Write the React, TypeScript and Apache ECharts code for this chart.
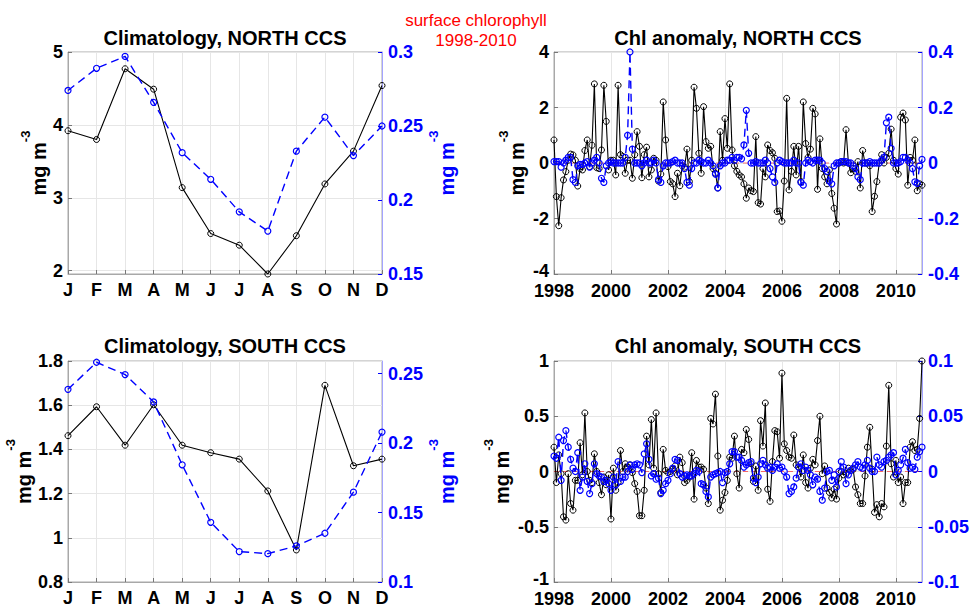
import React, { useEffect, useRef } from 'react';
import * as echarts from 'echarts';

const FONT = '"Liberation Sans", Arial, Helvetica, sans-serif';
const BLUE = '#0000ff';

const MONTHS = ['J', 'F', 'M', 'A', 'M', 'J', 'J', 'A', 'S', 'O', 'N', 'D'];
const YEAR_TICKS = [1998, 2000, 2002, 2004, 2006, 2008, 2010];
const START_YEAR = 1998;

// Climatology, NORTH CCS
const climNorthLeft = [3.92, 3.8, 4.77, 4.49, 3.14, 2.51, 2.35, 1.955, 2.48, 3.19, 3.64, 4.54];
const climNorthRight = [0.274, 0.289, 0.297, 0.266, 0.232, 0.214, 0.192, 0.179, 0.233, 0.256, 0.23, 0.25];
// Climatology, SOUTH CCS
const climSouthLeft = [1.462, 1.593, 1.419, 1.602, 1.419, 1.385, 1.356, 1.212, 0.945, 1.69, 1.326, 1.356];
const climSouthRight = [0.2387, 0.2582, 0.2493, 0.2296, 0.1844, 0.143, 0.1219, 0.1204, 0.126, 0.1351, 0.1647, 0.2079];

// Chl anomaly, NORTH CCS (monthly, Jan 1998 - Dec 2010)
const anomNorthLeft = [
  0.83, -1.21, -2.26, -1.25, -0.61, -0.31, 0.1, 0.32, 0.29, 0.1, -0.83, -0.2,
  -0.25, 0.45, 0.83, -0.13, 0.64, 2.85, -0.17, -0.2, 0.47, 2.8, 1.5, -0.25,
  0.1, 0.1, -0.43, 2.8, 0.3, 0.23, -0.37, 0.1, 0.1, -0.55, 0.3, 1.13,
  0.6, -0.53, 0.3, 0.57, -0.5, -0.25, 0.17, 0.1, -0.65, -0.4, 2.2, 0.83,
  -0.13, -0.67, -0.75, -1.21, -0.37, -0.82, -0.1, -0.15, 0.5, -0.67, 0.1, 2.73,
  1.97, 0.35, -0.37, 2.03, 0.77, 0.53, 0.6, -0.2, -0.37, -0.9, 1.13, 0.1,
  1.6, 0.53, 2.85, 0.47, -0.1, -0.3, -0.43, -0.5, -0.75, -1.27, -0.9, -1.0,
  -1.03, 0.95, -1.43, -1.48, -0.2, -0.5, 0.65, 0.45, 0.37, 0.17, -1.75, -1.73,
  -2.1, -0.65, 2.33, -0.97, -0.3, 0.6, -0.43, 0.6, -0.67, 2.2, 0.7, 0.2,
  0.5, 1.97, 1.77, -0.95, 0.87, -0.2, -0.5, -0.75, -0.25, -1.1, -1.63, -2.2,
  0.0, 0.05, 0.0, 1.2, 0.0, -0.35, -0.2, -0.3, 0.05, -0.9, 0.45, 0.0,
  0.0, -0.1, -1.75, -1.2, -0.67, 0.0, 0.3, 0.0, 0.2, 0.35, 1.22, 0.1,
  -0.2, -0.4, 1.65, 1.8, 1.55, -0.8, 0.2, 0.1, 0.83, -1.0, -0.75, -0.8,
];
const anomNorthRight = [
  0.005, 0.005, 0.005, -0.015, 0.0, 0.01, 0.02, 0.02, -0.06, -0.07, -0.01, -0.005,
  -0.005, 0.0, 0.005, -0.015, 0.0, 0.01, 0.02, 0.0, -0.055, -0.07, -0.01, 0.0,
  0.005, 0.0, 0.0, 0.0, 0.0, 0.0, 0.02, 0.1, 0.4, 0.05, 0.0, 0.0,
  0.0, -0.01, 0.0, 0.01, 0.0, 0.0, 0.01, 0.0, -0.06, -0.07, -0.01, 0.0,
  0.0, 0.0, 0.005, 0.01, 0.0, 0.0, 0.0, -0.02, -0.07, -0.08, -0.02, 0.0,
  0.0, 0.01, 0.005, 0.0, 0.0, 0.01, 0.0, -0.01, -0.04, -0.09, -0.01, 0.0,
  0.0, 0.01, 0.01, 0.02, 0.01, 0.02, 0.02, 0.015, 0.065, 0.19, 0.035, 0.0,
  0.0, 0.005, 0.0, 0.0, 0.0, 0.01, 0.0, -0.02, -0.05, -0.07, 0.0, 0.01,
  0.005, 0.0, 0.0, 0.0, 0.0, 0.01, 0.0, 0.0, -0.07, -0.08, 0.0, 0.01,
  0.005, 0.0, 0.01, 0.01, 0.01, 0.0, -0.02, -0.03, -0.065, -0.075, -0.01, 0.0,
  0.0, 0.005, 0.005, 0.005, 0.0, 0.0, -0.01, -0.02, -0.05, -0.06, 0.0, 0.0,
  0.0, 0.005, 0.0, 0.0, 0.0, 0.0, 0.01, 0.02, 0.145, 0.165, 0.053, 0.0,
  0.0, 0.0, 0.005, 0.02, 0.02, 0.01, 0.0, -0.02, -0.068, -0.073, -0.01, 0.013,
];

// Chl anomaly, SOUTH CCS
const anomSouthLeft = [
  0.22, -0.1, 0.15, -0.02, -0.41, -0.44, -0.02, -0.29, -0.35, -0.08, -0.08, 0.26,
  -0.03, 0.53, 0.0, -0.08, -0.1, 0.16, 0.0, -0.1, -0.21, -0.05, -0.12, -0.03,
  -0.43, 0.03, -0.17, -0.1, 0.19, 0.0, 0.07, 0.04, 0.06, -0.01, -0.11, -0.18,
  -0.4, -0.4, -0.17, 0.32, 0.06, 0.47, 0.03, 0.53, -0.02, -0.19, 0.2, 0.01,
  -0.01, 0.0, 0.02, 0.05, -0.03, 0.13, 0.08, -0.1, -0.08, -0.05, 0.17, -0.25,
  0.1, 0.04, 0.04, 0.02, -0.15, -0.29, 0.48, 0.43, 0.7, 0.14, -0.35, -0.26,
  -0.19, -0.08, 0.13, 0.12, 0.32, -0.02, -0.15, 0.2, 0.17, 0.38, 0.29, 0.07,
  -0.09, 0.05, -0.17, 0.46, 0.23, 0.62, -0.16, -0.27, 0.09, 0.37, 0.36, 0.12,
  0.89, 0.25, 0.19, 0.13, 0.12, 0.33, 0.06, 0.04, -0.05, 0.15, -0.1, -0.15,
  0.03, 0.11, 0.06, 0.28, 0.5, -0.02, 0.05, -0.15, -0.19, -0.24, -0.16, -0.25,
  -0.06, 0.0, -0.03, -0.02, 0.03, 0.01, 0.02, -0.14, -0.21, -0.29, -0.29, -0.04,
  0.22, 0.4, 0.02, -0.37, -0.3, -0.41, -0.29, -0.32, 0.23, 0.78, 0.07, -0.05,
  0.1, -0.1, -0.05, -0.29, -0.1, -0.1, 0.22, 0.27, 0.19, 0.2, 0.48, 1.0,
];
const anomSouthRight = [
  0.014, 0.012, 0.031, -0.008, 0.028, 0.037, 0.022, 0.011, 0.003, 0.0, 0.017, -0.017,
  -0.005, 0.007, -0.009, -0.02, -0.011, 0.007, -0.002, -0.004, -0.005, -0.009, -0.008, -0.011,
  -0.017, -0.005, -0.012, 0.009, -0.009, -0.005, -0.005, 0.0, 0.006, 0.002, 0.006, 0.007,
  0.006, -0.001, 0.016, 0.025, 0.011, -0.004, -0.002, -0.007, -0.006, -0.02, -0.017, -0.011,
  -0.008, -0.002, 0.003, 0.011, 0.01, -0.002, -0.005, -0.004, -0.003, -0.004, -0.004, -0.002,
  0.001, 0.0, -0.011, -0.012, -0.018, -0.023, -0.005, -0.003, -0.002, -0.001, 0.0, -0.01,
  -0.001, 0.0, 0.007, 0.018, 0.018, 0.013, 0.013, 0.01, 0.004, 0.006, 0.008, 0.009,
  -0.006, -0.01, -0.005, 0.007, 0.01, 0.006, 0.003, 0.004, 0.001, 0.004, 0.007, 0.003,
  0.004, 0.0, -0.005, -0.02, -0.018, -0.014, -0.006, 0.004, 0.007, 0.001, 0.004, 0.001,
  -0.003, -0.012, -0.005, -0.007, -0.018, -0.026, -0.015, 0.0, 0.001, -0.008, -0.003, -0.014,
  0.0, 0.009, 0.004, -0.011, -0.003, 0.001, 0.003, 0.006, 0.009, 0.004, 0.003, 0.006,
  0.01, 0.003, 0.0, 0.0, 0.013, 0.006, 0.004, 0.009, 0.01, 0.013, 0.015, 0.017,
  -0.003, 0.001, 0.006, 0.012, 0.02, 0.008, 0.003, 0.004, 0.002, 0.013, 0.018, 0.022,
];

const LAST_TIME = START_YEAR + (anomNorthLeft.length - 1) / 12;

const fmt = (v: number) => String(parseFloat(Number(v).toFixed(3)));

function nameRich(color: string) {
  return {
    rich: {
      m: { fontSize: 20, fontWeight: 'bold', fontFamily: FONT, color, lineHeight: 30, verticalAlign: 'bottom' },
      s: { fontSize: 13, fontWeight: 'bold', fontFamily: FONT, color, lineHeight: 12, verticalAlign: 'top' },
    },
  };
}

function leftAxis(grid: number, min: number, max: number, ticks: number[], nameGap: number, liftMin = false) {
  return {
    type: 'value', gridIndex: grid, position: 'left', min, max,
    axisLine: { show: true, onZero: false, lineStyle: { color: '#a8a8a8', width: 1 } },
    axisTick: { show: true, inside: true, length: 4, customValues: ticks, lineStyle: { color: '#777' } },
    axisLabel: {
      customValues: ticks, color: '#000', fontWeight: 'bold', fontSize: 18, fontFamily: FONT, margin: 5,
      lineHeight: 14,
      formatter: (v: number) => (liftMin && Math.abs(v - min) < 1e-9 ? `{lo|${fmt(v)}}` : fmt(v)),
      rich: {
        lo: { color: '#000', fontWeight: 'bold', fontSize: 18, fontFamily: FONT, lineHeight: 14, padding: [0, 0, 7, 0] },
      },
    },
    splitLine: { show: true, lineStyle: { color: '#e6e6e6', width: 1 } },
    name: '{m|mg m}{s|-3}', nameLocation: 'middle', nameRotate: 90, nameGap,
    nameTextStyle: nameRich('#000'),
  };
}

function rightAxis(grid: number, min: number, max: number, ticks: number[], nameGap: number | null) {
  const ax: any = {
    type: 'value', gridIndex: grid, position: 'right', min, max,
    axisLine: { show: true, onZero: false, lineStyle: { color: '#a3a3ff', width: 1 } },
    axisTick: { show: true, inside: true, length: 4, customValues: ticks, lineStyle: { color: BLUE } },
    axisLabel: {
      customValues: ticks, color: BLUE, fontWeight: 'bold', fontSize: 18, fontFamily: FONT, margin: 6,
      lineHeight: 14,
      formatter: (v: number) => fmt(v),
    },
    splitLine: { show: false },
  };
  if (nameGap !== null) {
    ax.name = '{m|mg m}{s|-3}';
    ax.nameLocation = 'middle';
    ax.nameRotate = 90;
    ax.nameGap = nameGap;
    ax.nameTextStyle = nameRich(BLUE);
  }
  return ax;
}

function monthAxis(grid: number) {
  return {
    type: 'value', gridIndex: grid, min: 1, max: 12, interval: 1,
    axisLine: { show: true, onZero: false, lineStyle: { color: '#a8a8a8' } },
    axisTick: { show: true, inside: true, length: 4, lineStyle: { color: '#777' } },
    axisLabel: {
      color: '#000', fontWeight: 'bold', fontSize: 18, fontFamily: FONT, margin: 9, lineHeight: 14,
      formatter: (v: number) => MONTHS[Math.round(v) - 1] || '',
    },
    splitLine: { show: true, lineStyle: { color: '#e6e6e6', width: 1 } },
  };
}

function yearAxis(grid: number) {
  return {
    type: 'value', gridIndex: grid, min: START_YEAR, max: LAST_TIME,
    axisLine: { show: true, onZero: false, lineStyle: { color: '#a8a8a8' } },
    axisTick: { show: true, inside: true, length: 4, customValues: YEAR_TICKS, lineStyle: { color: '#777' } },
    axisLabel: {
      customValues: YEAR_TICKS, color: '#000', fontWeight: 'bold', fontSize: 18, fontFamily: FONT, margin: 10,
      lineHeight: 14,
      formatter: (v: number) => String(Math.round(v)),
    },
    splitLine: { show: true, lineStyle: { color: '#e6e6e6', width: 1 } },
  };
}

const monthly = (vals: number[]) => vals.map((v, i) => [i + 1, v]);
const timed = (vals: number[]) => vals.map((v, i) => [START_YEAR + i / 12, v]);

function blackSeries(x: number, y: number, data: number[][]) {
  return {
    type: 'line', xAxisIndex: x, yAxisIndex: y, data, z: 3,
    symbol: 'circle', symbolSize: 6, showSymbol: true,
    lineStyle: { color: '#000', width: 1.1 },
    itemStyle: { color: 'rgba(0,0,0,0)', borderColor: '#000', borderWidth: 1 },
  };
}
function blueSeries(x: number, y: number, data: number[][]) {
  return {
    type: 'line', xAxisIndex: x, yAxisIndex: y, data, z: 4,
    symbol: 'circle', symbolSize: 6, showSymbol: true,
    lineStyle: { color: BLUE, width: 1.4, type: [8, 5] },
    itemStyle: { color: 'rgba(0,0,0,0)', borderColor: BLUE, borderWidth: 1.2 },
  };
}
function zeroSeries(x: number, y: number) {
  return {
    type: 'line', xAxisIndex: x, yAxisIndex: y, data: [[START_YEAR, 0], [LAST_TIME, 0]], z: 2,
    showSymbol: false, symbol: 'none',
    lineStyle: { color: 'rgba(255,0,0,0.55)', width: 1, type: [5, 4] },
  };
}

function titleText(text: string, x: number, y: number) {
  return {
    type: 'text', x, y, silent: true,
    style: { text, fill: '#000', font: `bold 20px ${FONT}`, align: 'center', verticalAlign: 'middle' },
  };
}

export default function App() {
  const ref = useRef<HTMLDivElement>(null);
  useEffect(() => {
    if (!ref.current) return;
    const chart = echarts.init(ref.current, undefined, { renderer: 'svg' });
    const gridBase = { show: true, borderColor: '#a8a8a8', borderWidth: 1, backgroundColor: 'rgba(0,0,0,0)', containLabel: false, outerBoundsMode: 'none' };
    chart.setOption({
      animation: false,
      backgroundColor: '#ffffff',
      grid: [
        { ...gridBase, left: 68, width: 314, top: 52, height: 222 },
        { ...gridBase, left: 554, width: 368, top: 52, height: 222 },
        { ...gridBase, left: 68, width: 314, top: 361, height: 221 },
        { ...gridBase, left: 554, width: 368, top: 361, height: 221 },
      ],
      xAxis: [monthAxis(0), yearAxis(1), monthAxis(2), yearAxis(3)],
      yAxis: [
        leftAxis(0, 1.955, 5, [2, 3, 4, 5], 14),
        rightAxis(0, 0.15, 0.3, [0.15, 0.2, 0.25, 0.3], 44),
        leftAxis(1, -4, 4, [-4, -2, 0, 2, 4], 27, true),
        rightAxis(1, -0.4, 0.4, [-0.4, -0.2, 0, 0.2, 0.4], null),
        leftAxis(2, 0.8, 1.8, [0.8, 1, 1.2, 1.4, 1.6, 1.8], 31),
        rightAxis(2, 0.1, 0.2591, [0.1, 0.15, 0.2, 0.25], 41),
        leftAxis(3, -1, 1, [-1, -0.5, 0, 0.5, 1], 42, true),
        rightAxis(3, -0.1, 0.1, [-0.1, -0.05, 0, 0.05, 0.1], null),
      ],
      series: [
        blackSeries(0, 0, monthly(climNorthLeft)),
        blueSeries(0, 1, monthly(climNorthRight)),
        zeroSeries(1, 2),
        blackSeries(1, 2, timed(anomNorthLeft)),
        blueSeries(1, 3, timed(anomNorthRight)),
        blackSeries(2, 4, monthly(climSouthLeft)),
        blueSeries(2, 5, monthly(climSouthRight)),
        zeroSeries(3, 6),
        blackSeries(3, 6, timed(anomSouthLeft)),
        blueSeries(3, 7, timed(anomSouthRight)),
      ],
      graphic: [
        titleText('Climatology, NORTH CCS', 225, 38),
        titleText('Chl anomaly, NORTH CCS', 738, 38),
        titleText('Climatology, SOUTH CCS', 225, 346),
        titleText('Chl anomaly, SOUTH CCS', 738, 346),
        {
          type: 'text', x: 476, y: 20, silent: true,
          style: { text: 'surface chlorophyll', fill: '#ff0000', font: `17px ${FONT}`, align: 'center', verticalAlign: 'middle' },
        },
        {
          type: 'text', x: 476, y: 40, silent: true,
          style: { text: '1998-2010', fill: '#ff0000', font: `17px ${FONT}`, align: 'center', verticalAlign: 'middle' },
        },
      ],
    });
    return () => chart.dispose();
  }, []);
  return <div ref={ref} style={{ position: 'absolute', left: 0, top: 0, width: 971, height: 609 }} />;
}
